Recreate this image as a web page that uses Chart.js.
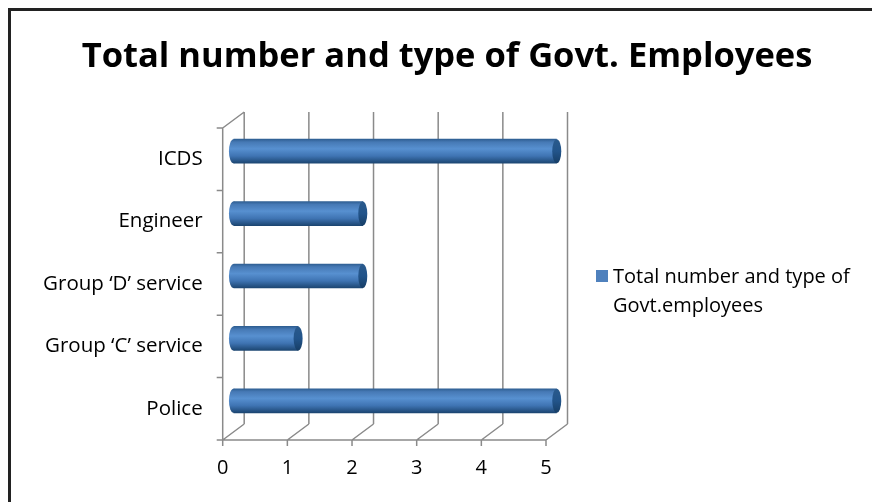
<!DOCTYPE html>
<html>
<head>
<meta charset="utf-8">
<script src="https://cdn.jsdelivr.net/npm/chart.js@4.4.0/dist/chart.umd.min.js"></script>
<style>
  html, body { margin: 0; padding: 0; background: #fff; overflow: hidden; }
  #wrap { position: relative; width: 872px; height: 502px; }
  #frame { position: absolute; left: 8px; top: 8px; width: 900px; height: 600px;
           border-top: 3px solid #222; border-left: 3px solid #222; box-sizing: border-box; }
  canvas { position: absolute; left: 0; top: 0; }
</style>
</head>
<body>
<div id="wrap">
  <div id="frame"></div>
  <canvas id="c" width="872" height="502"></canvas>
</div>
<script>
const categories = ["ICDS", "Engineer", "Group \u2018D\u2019 service", "Group \u2018C\u2019 service", "Police"];
const employeeCounts = [5, 2, 2, 1, 5];
const xTickValues = [0, 1, 2, 3, 4, 5];
const seriesLabel = "Total number and type of Govt.employees";
const titleText = "Total number and type of Govt. Employees";

const FONT = "'Open Sans', Lato, sans-serif";
const DEPTH_X = 21.5, DEPTH_Y = -16;
const GRID = "#8a8a8a";

function barGradient(ctx, yTop, yBot) {
  const g = ctx.createLinearGradient(0, yTop, 0, yBot);
  g.addColorStop(0, "#2f5f93");
  g.addColorStop(0.12, "#4679b5");
  g.addColorStop(0.4, "#5790d0");
  g.addColorStop(0.7, "#3f74b3");
  g.addColorStop(1, "#1c4672");
  return g;
}

const frame3d = {
  id: "frame3d",
  beforeDatasetsDraw(chart) {
    const ctx = chart.ctx, a = chart.chartArea;
    const xs = chart.scales.x;
    ctx.save();
    ctx.strokeStyle = GRID;
    ctx.lineWidth = 1.5;
    ctx.beginPath();
    xTickValues.forEach(v => {
      const px = xs.getPixelForValue(v);
      ctx.moveTo(px + DEPTH_X, a.top + DEPTH_Y);
      ctx.lineTo(px + DEPTH_X, a.bottom + DEPTH_Y);
      ctx.moveTo(px, a.bottom);
      ctx.lineTo(px + DEPTH_X, a.bottom + DEPTH_Y);
      ctx.moveTo(px, a.bottom);
      ctx.lineTo(px, a.bottom + 6);
    });
    ctx.moveTo(a.left, a.top);
    ctx.lineTo(a.left, a.bottom);
    ctx.moveTo(a.left, a.top);
    ctx.lineTo(a.left + DEPTH_X, a.top + DEPTH_Y);
    ctx.moveTo(a.left, a.bottom);
    ctx.lineTo(a.right, a.bottom);
    const n = categories.length;
    for (let i = 0; i <= n; i++) {
      const y = a.top + (a.bottom - a.top) * i / n;
      ctx.moveTo(a.left - 6, y);
      ctx.lineTo(a.left, y);
    }
    ctx.stroke();
    ctx.restore();
    ctx.save();
    ctx.translate(DEPTH_X / 2, DEPTH_Y / 2);
  },
  afterDatasetsDraw(chart) {
    const ctx = chart.ctx;
    const meta = chart.getDatasetMeta(0);
    meta.data.forEach(el => {
      const p = el.getProps(["x", "y", "base", "height"], true);
      const h = p.height, yTop = p.y - h / 2, yBot = p.y + h / 2;
      const rx = 4.5;
      ctx.beginPath();
      ctx.moveTo(p.base + 1, yTop);
      ctx.ellipse(p.base, p.y, rx, h / 2, 0, Math.PI * 1.5, Math.PI / 2, true);
      ctx.lineTo(p.base + 1, yBot);
      ctx.closePath();
      ctx.fillStyle = barGradient(ctx, yTop, yBot);
      ctx.fill();
      ctx.beginPath();
      ctx.ellipse(p.x, p.y, rx, h / 2, 0, 0, Math.PI * 2);
      const g = ctx.createLinearGradient(0, yTop, 0, yBot);
      g.addColorStop(0, "#2a5a8c");
      g.addColorStop(0.5, "#22548a");
      g.addColorStop(1, "#173e66");
      ctx.fillStyle = g;
      ctx.fill();
    });
    ctx.restore();
  },
  afterDraw(chart) {
    const ctx = chart.ctx;
    ctx.save();
    ctx.fillStyle = "#000";
    ctx.font = "bold 34.5px " + FONT;
    ctx.textAlign = "center";
    ctx.textBaseline = "alphabetic";
    ctx.fillText(titleText, 447, 67);
    ctx.fillStyle = "#4f81bd";
    ctx.fillRect(596, 270, 12, 12);
    ctx.fillStyle = "#000";
    ctx.font = "20px " + FONT;
    ctx.textBaseline = "middle";
    ctx.textAlign = "left";
    const words = seriesLabel.split(" ");
    ctx.fillText(words.slice(0, 5).join(" "), 613, 277);
    ctx.fillText(words.slice(5).join(" "), 613, 306);
    ctx.restore();
  }
};

new Chart(document.getElementById("c"), {
  type: "bar",
  data: {
    labels: categories,
    datasets: [{
      label: seriesLabel,
      data: employeeCounts,
      barThickness: 24,
      borderWidth: 0,
      backgroundColor: (c) => {
        const chart = c.chart;
        if (!chart.chartArea || c.dataIndex === undefined) return "#4f81bd";
        const yc = chart.scales.y.getPixelForValue(c.dataIndex);
        return barGradient(chart.ctx, yc - 12, yc + 12);
      }
    }]
  },
  options: {
    indexAxis: "y",
    responsive: false,
    animation: false,
    devicePixelRatio: 1,
    layout: { padding: { left: 0, right: 326, top: 128, bottom: 0 } },
    plugins: {
      legend: { display: false },
      tooltip: { enabled: false },
      title: { display: false }
    },
    scales: {
      x: {
        type: "linear",
        min: 0, max: 5,
        afterFit(s) { s.height = 62; },
        afterBuildTicks(s) { s.ticks = xTickValues.map(v => ({ value: v })); },
        grid: { display: false, drawTicks: false },
        border: { display: false },
        ticks: { color: "#000", font: { family: FONT, size: 20 }, padding: 16 }
      },
      y: {
        afterFit(s) { s.width = 222.7; },
        grid: { display: false, drawTicks: false },
        border: { display: false },
        ticks: { color: "#000", font: { family: FONT, size: 20.5 }, padding: 20 }
      }
    }
  },
  plugins: [frame3d]
});
</script>
</body>
</html>
